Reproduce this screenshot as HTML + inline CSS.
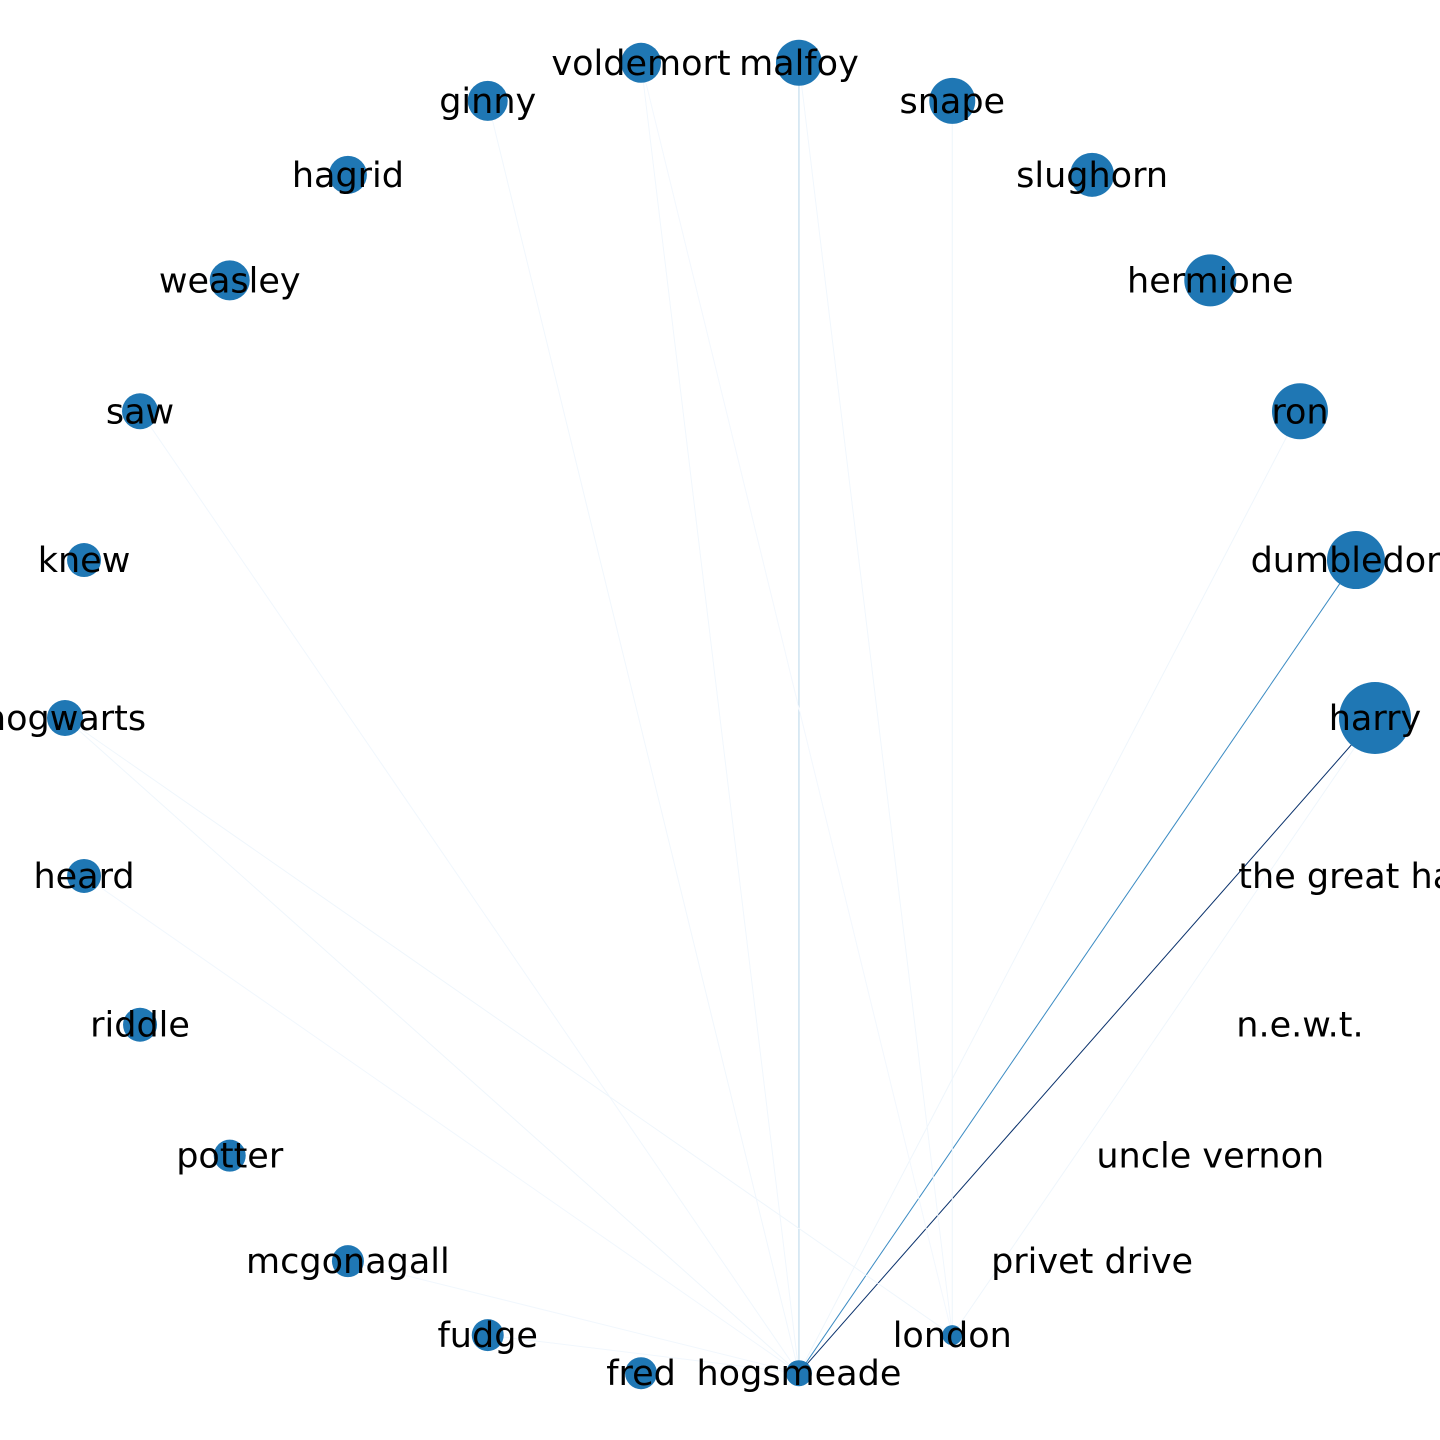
<!DOCTYPE html>
<html><head><meta charset="utf-8"><style>
html,body{margin:0;padding:0;background:#fff;width:1440px;height:1440px;overflow:hidden}
svg text{font-family:"DejaVu Sans","Liberation Sans",sans-serif;font-size:35px;fill:#000}
</style></head><body>
<svg id="chart" width="1440" height="1440" viewBox="0 0 1440 1440"></svg>
<script>
const nodeNames = ["harry","dumbledore","ron","hermione","slughorn","snape","malfoy","voldemort","ginny","hagrid","weasley","saw","knew","hogwarts","heard","riddle","potter","mcgonagall","fudge","fred","hogsmeade","london","privet drive","uncle vernon","n.e.w.t.","the great hall"];
const nodeRadii = [36,29,28,26,22,23,23,20,20,19,20,18,17,18,17,17,16,16,16,16,13,10,0,0,0,0];
const edgeSources = ["hogsmeade","hogsmeade","hogsmeade","hogsmeade","hogsmeade","hogsmeade","hogsmeade","hogsmeade","hogsmeade","hogsmeade","hogsmeade","london","london","london","london","london"];
const edgeTargets = ["harry","dumbledore","malfoy","ron","ginny","voldemort","saw","hogwarts","heard","mcgonagall","fudge","snape","harry","hogwarts","malfoy","voldemort"];
const edgeWeights = [1.0,0.65,0.3,0.04,0.03,0.03,0.03,0.04,0.03,0.03,0.03,0.05,0.04,0.04,0.03,0.02];

const svg = document.getElementById('chart');
const NS = "http://www.w3.org/2000/svg";
const cx = 720, cy = 718, RX = 655, RY = 660;
function pos(i){const a = 2*Math.PI*i/nodeNames.length; return [cx + RX*Math.cos(a), cy - RY*Math.sin(a)];}
function blues(t){
  const stops=[[247,251,255],[222,235,247],[198,219,239],[158,202,225],[107,174,214],[66,146,198],[33,113,181],[8,81,156],[8,48,107]];
  const x=Math.max(0,Math.min(1,t))*(stops.length-1); const i=Math.min(stops.length-2,Math.floor(x)); const f=x-i;
  const c=stops[i].map((v,k)=>Math.round(v+(stops[i+1][k]-v)*f)); return `rgb(${c[0]},${c[1]},${c[2]})`;
}
const eg = document.createElementNS(NS,'g');


svg.appendChild(eg);
for (let k=0;k<edgeSources.length;k++){
  const a = pos(nodeNames.indexOf(edgeSources[k])), b = pos(nodeNames.indexOf(edgeTargets[k]));
  const l = document.createElementNS(NS,'line');
  l.setAttribute('x1',a[0]);l.setAttribute('y1',a[1]);l.setAttribute('x2',b[0]);l.setAttribute('y2',b[1]);
  l.setAttribute('stroke',blues(edgeWeights[k]));l.setAttribute('stroke-width',1);
  
  
  eg.appendChild(l);
}
const ng = document.createElementNS(NS,'g');


svg.appendChild(ng);
for (let i=0;i<nodeNames.length;i++){
  const p = pos(i);
  if (nodeRadii[i]>0){
    const c = document.createElementNS(NS,'circle');
    c.setAttribute('cx',p[0]);c.setAttribute('cy',p[1]);c.setAttribute('r',nodeRadii[i]);c.setAttribute('fill','#1f77b4');
    
    
    ng.appendChild(c);
  }
}
for (let i=0;i<nodeNames.length;i++){
  const p = pos(i);
  const t = document.createElementNS(NS,'text');
  t.setAttribute('x',p[0]);t.setAttribute('y',p[1]+12);t.setAttribute('text-anchor','middle');
  t.textContent = nodeNames[i];
  
  
  svg.appendChild(t);
}
</script>
</body></html>
